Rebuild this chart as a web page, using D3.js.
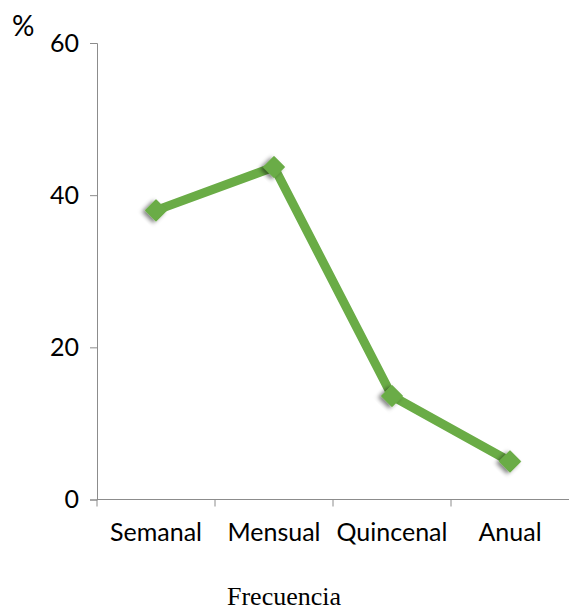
<!DOCTYPE html>
<html>
<head>
<meta charset="utf-8">
<script src="https://cdn.jsdelivr.net/npm/d3@7"></script>
<style>
  html, body { margin: 0; padding: 0; background: #fff; }
  svg { display: block; }
</style>
</head>
<body>
<script>
// Frequency categories and their percentages
const categories = ["Semanal", "Mensual", "Quincenal", "Anual"];
const percentages = [38, 43.7, 13.6, 5];
const yTicks = [0, 20, 40, 60];
const yLabel = "%";
const xTitle = "Frecuencia";

const width = 569, height = 610;
const plot = { left: 97, right: 569, top: 43, bottom: 499.5 };
const green = "#6aac46";
const axisColor = "#8c8c8c";
const sans = "Lato, 'Open Sans', sans-serif";

const svg = d3.select("body").append("svg")
  .attr("width", width).attr("height", height);

const defs = svg.append("defs");
const shadow = defs.append("filter").attr("id", "markerShadow")
  .attr("x", "-50%").attr("y", "-50%").attr("width", "200%").attr("height", "200%");
shadow.append("feDropShadow")
  .attr("dx", -1).attr("dy", 3).attr("stdDeviation", 2)
  .attr("flood-color", "#000").attr("flood-opacity", 0.5);

const x = d3.scaleBand().domain(categories).range([plot.left, plot.right]);
const y = d3.scaleLinear().domain([0, 60]).range([plot.bottom, plot.top]);

// Y axis
const yAxis = svg.append("g")
  .attr("transform", `translate(${plot.left},0)`)
  .call(d3.axisLeft(y).tickValues(yTicks).tickSize(7).tickPadding(11).tickFormat(d3.format("d")));
yAxis.select(".domain").attr("stroke", axisColor);
yAxis.selectAll(".tick line").attr("stroke", axisColor);
yAxis.selectAll(".tick text")
  .attr("fill", "#000").style("font-family", sans).style("font-size", "25px");

// X axis: ticks at band boundaries
const xAxis = svg.append("g")
  .attr("transform", `translate(0,${plot.bottom})`);
xAxis.append("line")
  .attr("x1", plot.left).attr("x2", plot.right)
  .attr("stroke", axisColor);
const boundaries = categories.map(c => x(c));
xAxis.selectAll("line.tick").data(boundaries).enter().append("line")
  .attr("class", "tick")
  .attr("x1", d => d).attr("x2", d => d)
  .attr("y1", 0).attr("y2", 7)
  .attr("stroke", axisColor);
xAxis.selectAll("text").data(categories).enter().append("text")
  .attr("x", d => x(d) + x.bandwidth() / 2)
  .attr("y", 41)
  .attr("text-anchor", "middle")
  .style("font-family", sans).style("font-size", "25px")
  .text(d => d);

// Y unit label
svg.append("text")
  .attr("x", 12).attr("y", 36)
  .style("font-family", sans).style("font-size", "28px")
  .text(yLabel);

// X title
svg.append("text")
  .attr("x", 284).attr("y", 605)
  .attr("text-anchor", "middle")
  .style("font-family", "'Liberation Serif', 'Times New Roman', serif")
  .style("font-size", "26px")
  .text(xTitle);

// Series line
const pts = categories.map((c, i) => [x(c) + x.bandwidth() / 2, y(percentages[i])]);
svg.append("path")
  .attr("d", d3.line()(pts))
  .attr("fill", "none")
  .attr("stroke", green)
  .attr("stroke-width", 9)
  .attr("stroke-linejoin", "round");

// Diamond markers
svg.selectAll("path.marker").data(pts).enter().append("path")
  .attr("class", "marker")
  .attr("d", d3.symbol().type(d3.symbolSquare).size(210))
  .attr("transform", d => `translate(${d[0]},${d[1]}) rotate(45)`)
  .attr("fill", green)
  .attr("stroke", green)
  .attr("stroke-width", 1.5)
  .attr("stroke-linejoin", "round")
  .attr("filter", "url(#markerShadow)");
</script>
</body>
</html>
